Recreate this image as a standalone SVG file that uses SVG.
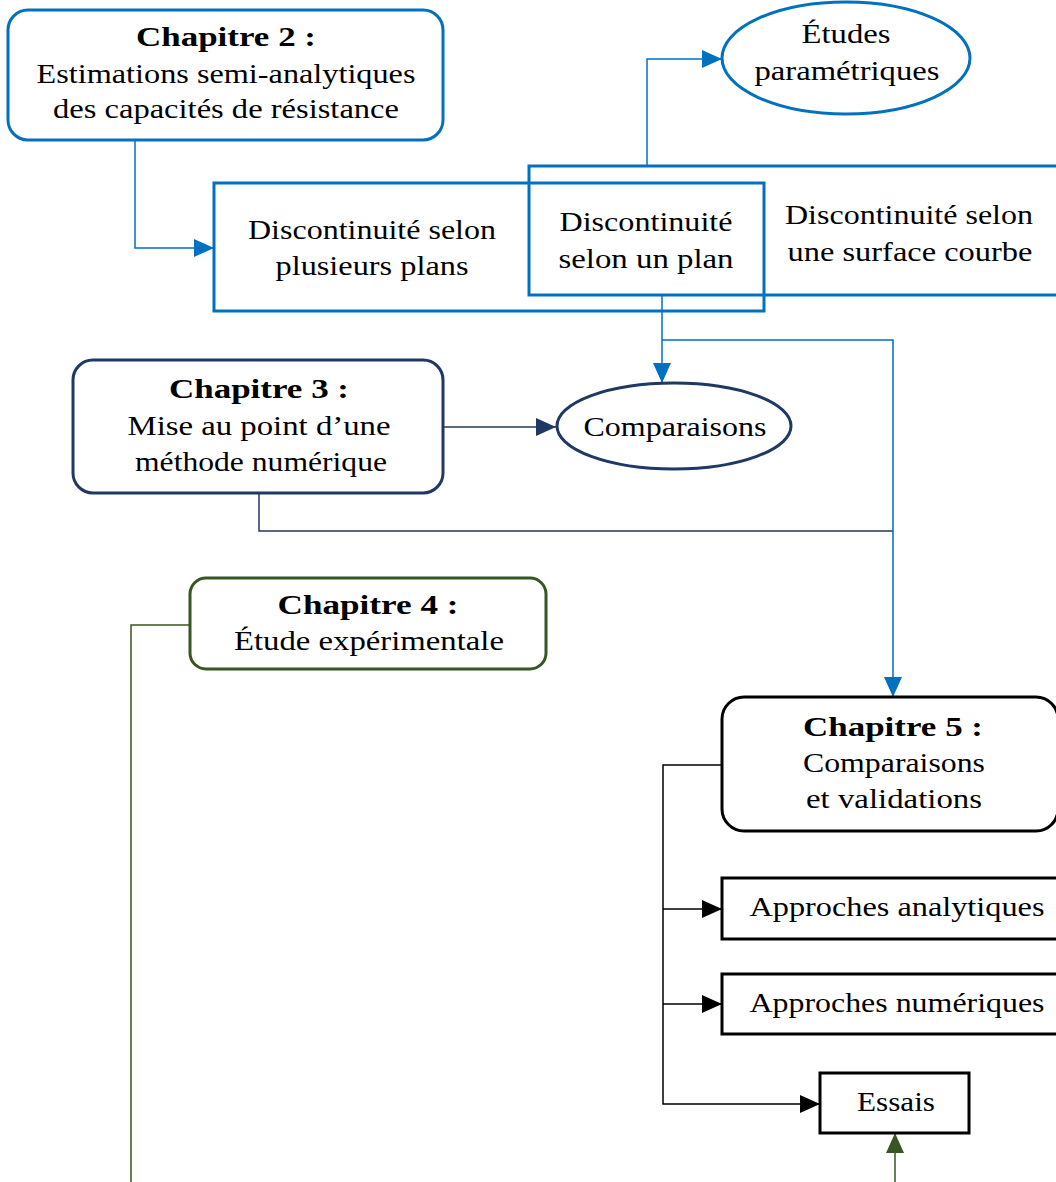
<svg xmlns="http://www.w3.org/2000/svg" width="1056" height="1182" viewBox="0 0 1056 1182">
<defs>
<style>
text{font-family:"Liberation Serif","Times New Roman",serif;font-size:27px;text-anchor:middle;fill:#000}
.b{font-weight:bold}
.box{fill:#fff;stroke-width:3}
.blue{stroke:#0070C0}
.navy{stroke:#1F3864}
.green{stroke:#375623}
.blk{stroke:#000}
.con{fill:none;stroke-width:1.5}
</style>
<marker id="aBlue" viewBox="0 0 20 20" refX="20" refY="10" markerWidth="20" markerHeight="20" markerUnits="userSpaceOnUse" orient="auto"><path d="M0,1 L20,10 L0,19 z" fill="#0070C0"/></marker>
<marker id="aNavy" viewBox="0 0 20 20" refX="20" refY="10" markerWidth="20" markerHeight="20" markerUnits="userSpaceOnUse" orient="auto"><path d="M0,1 L20,10 L0,19 z" fill="#1F3864"/></marker>
<marker id="aGreen" viewBox="0 0 20 20" refX="20" refY="10" markerWidth="20" markerHeight="20" markerUnits="userSpaceOnUse" orient="auto"><path d="M0,1 L20,10 L0,19 z" fill="#375623"/></marker>
<marker id="aBlk" viewBox="0 0 20 20" refX="20" refY="10" markerWidth="20" markerHeight="20" markerUnits="userSpaceOnUse" orient="auto"><path d="M0,1 L20,10 L0,19 z" fill="#000"/></marker>
</defs>
<rect width="1056" height="1182" fill="#fff"/>
<g id="connectors">
<path class="con blue" d="M135,140 V248 H214" marker-end="url(#aBlue)"/>
<path class="con blue" d="M647,166 V59 H722" marker-end="url(#aBlue)"/>
<path class="con blue" d="M662,295 V383" marker-end="url(#aBlue)"/>
<path class="con navy" d="M443,427 H556" marker-end="url(#aNavy)"/>
<path class="con navy" d="M259,493 V531 H893"/>
<path class="con blue" d="M662,340 H893 V697" marker-end="url(#aBlue)"/>
<path class="con green" d="M190,625 H131 V1182"/>
<path class="con blk" d="M722,765 H663 V1104 H820" marker-end="url(#aBlk)"/>
<path class="con blk" d="M663,909 H722" marker-end="url(#aBlk)"/>
<path class="con blk" d="M663,1004 H722" marker-end="url(#aBlk)"/>
<path class="con green" d="M895,1182 V1133" marker-end="url(#aGreen)"/>
</g>
<g id="ch2">
<rect class="box blue" x="8" y="10" width="435" height="130" rx="20"/>
<text class="b" x="226" y="46" textLength="180" lengthAdjust="spacingAndGlyphs">Chapitre 2 :</text>
<text x="226" y="83" textLength="379" lengthAdjust="spacingAndGlyphs">Estimations semi-analytiques</text>
<text x="226" y="118" textLength="346" lengthAdjust="spacingAndGlyphs">des capacités de résistance</text>
</g>
<g id="plusieurs">
<rect class="box blue" x="214" y="183" width="550" height="128" fill="none" style="fill:none"/>
<text x="372" y="239" textLength="248" lengthAdjust="spacingAndGlyphs">Discontinuité selon</text>
<text x="372" y="275" textLength="193" lengthAdjust="spacingAndGlyphs">plusieurs plans</text>
</g>
<g id="unplan">
<rect class="box blue" x="529" y="166" width="550" height="129" style="fill:none"/>
<text x="646" y="231" textLength="173" lengthAdjust="spacingAndGlyphs">Discontinuité</text>
<text x="646" y="268" textLength="175" lengthAdjust="spacingAndGlyphs">selon un plan</text>
</g>
<g id="courbe">
<text x="909" y="224" textLength="248" lengthAdjust="spacingAndGlyphs">Discontinuité selon</text>
<text x="910" y="261" textLength="245" lengthAdjust="spacingAndGlyphs">une surface courbe</text>
</g>
<g id="etudes">
<ellipse class="box blue" cx="846" cy="58" rx="124" ry="56"/>
<text x="846" y="43" textLength="89" lengthAdjust="spacingAndGlyphs">Études</text>
<text x="847" y="80" textLength="185" lengthAdjust="spacingAndGlyphs">paramétriques</text>
</g>
<g id="ch3">
<rect class="box navy" x="73" y="360" width="370" height="133" rx="20"/>
<text class="b" x="259" y="398" textLength="180" lengthAdjust="spacingAndGlyphs">Chapitre 3 :</text>
<text x="259" y="435" textLength="263" lengthAdjust="spacingAndGlyphs">Mise au point d’une</text>
<text x="261" y="471" textLength="252" lengthAdjust="spacingAndGlyphs">méthode numérique</text>
</g>
<g id="comparaisons">
<ellipse class="box navy" cx="674" cy="426" rx="117" ry="43"/>
<text x="675" y="436" textLength="183" lengthAdjust="spacingAndGlyphs">Comparaisons</text>
</g>
<g id="ch4">
<rect class="box green" x="190" y="578" width="356" height="91" rx="16"/>
<text class="b" x="368" y="614" textLength="181" lengthAdjust="spacingAndGlyphs">Chapitre 4 :</text>
<text x="369" y="650" textLength="270" lengthAdjust="spacingAndGlyphs">Étude expérimentale</text>
</g>
<g id="ch5">
<rect class="box blk" x="722" y="697" width="336" height="134" rx="22"/>
<text class="b" x="893" y="736" textLength="180" lengthAdjust="spacingAndGlyphs">Chapitre 5 :</text>
<text x="894" y="772" textLength="182" lengthAdjust="spacingAndGlyphs">Comparaisons</text>
<text x="894" y="808" textLength="176" lengthAdjust="spacingAndGlyphs">et validations</text>
</g>
<g id="analytiques">
<rect class="box blk" x="722" y="878" width="340" height="61"/>
<text x="897" y="916" textLength="295" lengthAdjust="spacingAndGlyphs">Approches analytiques</text>
</g>
<g id="numeriques">
<rect class="box blk" x="722" y="974" width="340" height="60"/>
<text x="897" y="1012" textLength="295" lengthAdjust="spacingAndGlyphs">Approches numériques</text>
</g>
<g id="essais">
<rect class="box blk" x="820" y="1073" width="149" height="60"/>
<text x="896" y="1111" textLength="78" lengthAdjust="spacingAndGlyphs">Essais</text>
</g>
</svg>
